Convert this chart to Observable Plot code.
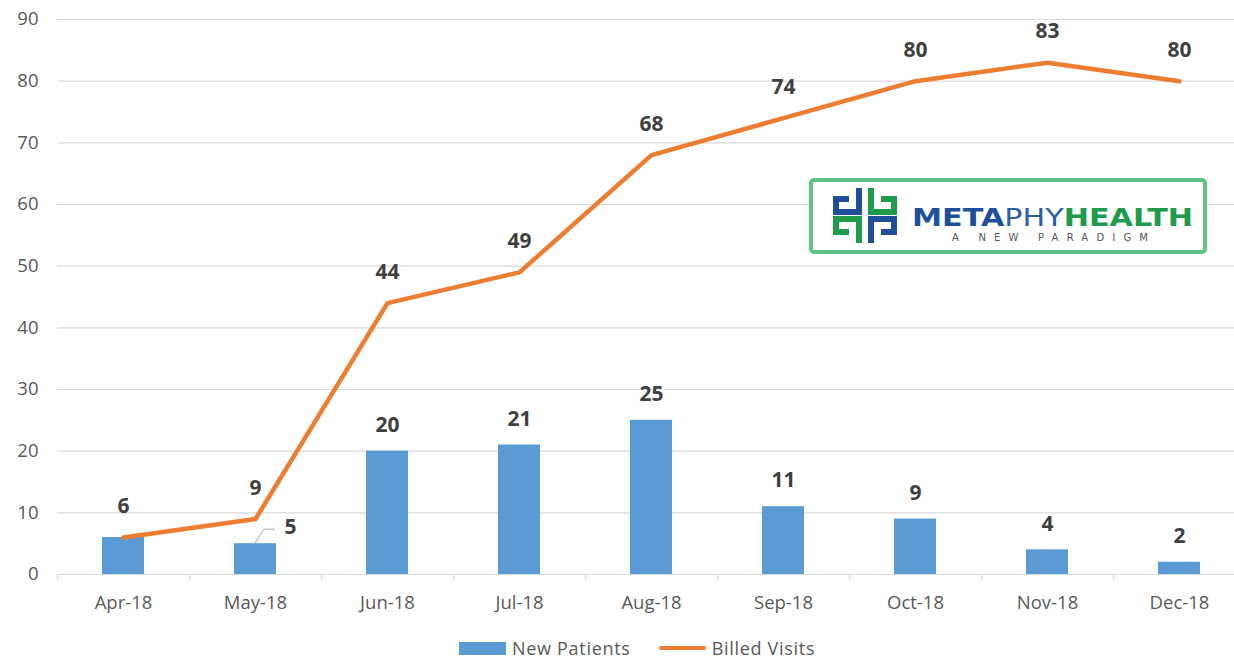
<!DOCTYPE html>
<html><head><meta charset="utf-8">
<script src="https://cdn.jsdelivr.net/npm/d3@7"></script>
<script src="https://cdn.jsdelivr.net/npm/@observablehq/plot@0.6"></script>
<style>
body{margin:0;background:#fff;font-family:"Open Sans",sans-serif;}
#wrap{position:relative;width:1234px;height:661px;overflow:hidden;}
#legend{position:absolute;left:459px;top:638px;height:20px;line-height:20px;display:flex;align-items:center;font-size:18px;letter-spacing:0.7px;color:#595959;}
#legend span{line-height:20px;}
.sw{display:inline-block;width:47px;margin-right:6px;}
</style>
</head><body><div id="wrap"><div id="chart"></div>
<div id="legend"></div></div>
<script>
const months = ["Apr-18","May-18","Jun-18","Jul-18","Aug-18","Sep-18","Oct-18","Nov-18","Dec-18"];
const newPatients = [6,5,20,21,25,11,9,4,2];
const billedVisits = [6,9,44,49,68,74,80,83,80];
const yTicks = [0,10,20,30,40,50,60,70,80,90];
const seriesNames = ["New Patients","Billed Visits"];
const seriesColors = ["#5B9BD5","#ED7D31"];

const data = months.map((m,i)=>({month:m, np:newPatients[i], bv:billedVisits[i]}));
const labelStyle = {fill:"#404040", fontSize:21, fontWeight:"bold"};

const plot = Plot.plot({
  width:1234, height:630,
  marginTop:19, marginBottom:56, marginLeft:57, marginRight:0,
  style:{fontFamily:'"Open Sans", sans-serif', background:"#fff", color:"#595959", overflow:"visible"},
  x:{type:"band", domain:months, range:[57,1245], paddingInner:0.68, paddingOuter:0.34, label:null},
  y:{domain:[0,90], range:[574,19], label:null},
  marks:[
    Plot.gridY(yTicks, {stroke:"#D9D9D9", strokeOpacity:1, strokeWidth:1.2}),
    Plot.ruleX(months, {x:d=>d, y1:0, y2:-1, dx:-66, stroke:"#D9D9D9", strokeWidth:1.2}),
    Plot.ruleY([0], {stroke:"#D9D9D9", strokeWidth:1.2}),
    Plot.barY(data, {x:"month", y:"np", fill:seriesColors[0]}),
    Plot.line(data, {x:"month", y:"bv", stroke:seriesColors[1], strokeWidth:4.5, strokeLinejoin:"round", strokeLinecap:"round"}),
    Plot.text(data, {x:"month", y:"bv", text:d=>String(d.bv), dy:-31, ...labelStyle}),
    Plot.text(data.filter(d=>d.month!=="Apr-18" && d.month!=="May-18"), {x:"month", y:"np", text:d=>String(d.np), dy:-26, ...labelStyle}),
    Plot.text(data.filter(d=>d.month==="May-18"), {x:"month", y:"np", text:d=>String(d.np), dx:35, dy:-16, ...labelStyle}),
    Plot.axisX({tickSize:0, tickPadding:21, fontSize:18.5, fill:"#595959", letterSpacing:0.4}),
    Plot.axisY(yTicks, {tickSize:0, tickPadding:19, fontSize:18.5, fill:"#595959"})
  ]
});
document.getElementById("chart").appendChild(plot);

// leader line for May-18 "New Patients" label
const sx = plot.scale("x"), sy = plot.scale("y");
const svg = d3.select(plot);
{
  const cx = sx.apply("May-18") + sx.bandwidth/2;
  const yy = sy.apply(newPatients[1]);
  svg.append("polyline")
    .attr("points", `${cx},${yy} ${cx+9},${yy-14} ${cx+20},${yy-14}`)
    .attr("fill","none").attr("stroke","#A6A6A6").attr("stroke-width",1);
}

// logo box
const logo = svg.append("g").attr("text-anchor","start");
logo.append("rect").attr("x",811).attr("y",180).attr("width",394).attr("height",72).attr("rx",3)
  .attr("fill","#fff").attr("stroke","#62C185").attr("stroke-width",4);
const icon = logo.append("g").attr("fill","none").attr("stroke-width",6).attr("stroke-linejoin","miter");
icon.append("path").attr("d","M859 188 L859 212 L836 212 L836 199 L849 199").attr("stroke","#1F4E9A");
icon.append("path").attr("d","M871 188 L871 212 L894 212 L894 199 L881 199").attr("stroke","#1E9B4B");
icon.append("path").attr("d","M859 243 L859 219 L836 219 L836 232 L849 232").attr("stroke","#1E9B4B");
icon.append("path").attr("d","M871 243 L871 219 L894 219 L894 232 L881 232").attr("stroke","#1F4E9A");
const t = logo.append("text").attr("x",912).attr("y",226).attr("font-family","'DejaVu Sans', sans-serif")
  .attr("font-size",25).attr("textLength",281).attr("lengthAdjust","spacingAndGlyphs");
t.append("tspan").attr("font-weight","bold").attr("fill","#1D4F9C").text("META");
t.append("tspan").attr("font-weight","normal").attr("fill","#2B5DA8").text("PHY");
t.append("tspan").attr("font-weight","bold").attr("fill","#1E9B4B").text("HEALTH");
logo.append("text").attr("x",952).attr("y",241).attr("font-family","'DejaVu Sans', sans-serif")
  .attr("font-size",10).attr("fill","#555").attr("textLength",196).attr("lengthAdjust","spacing")
  .text("A NEW PARADIGM");

// legend
const lg = d3.select("#legend");
seriesNames.forEach((n,i)=>{
  const it = lg.append("span").style("display","inline-flex").style("align-items","center").style("margin-right", i===0?"28px":"0");
  it.append("span").attr("class","sw").style("height", i===0?"13px":"4px").style("background", seriesColors[i]).style("border-radius", i===0?"0":"2px");
  it.append("span").text(n);
});
</script></body></html>
